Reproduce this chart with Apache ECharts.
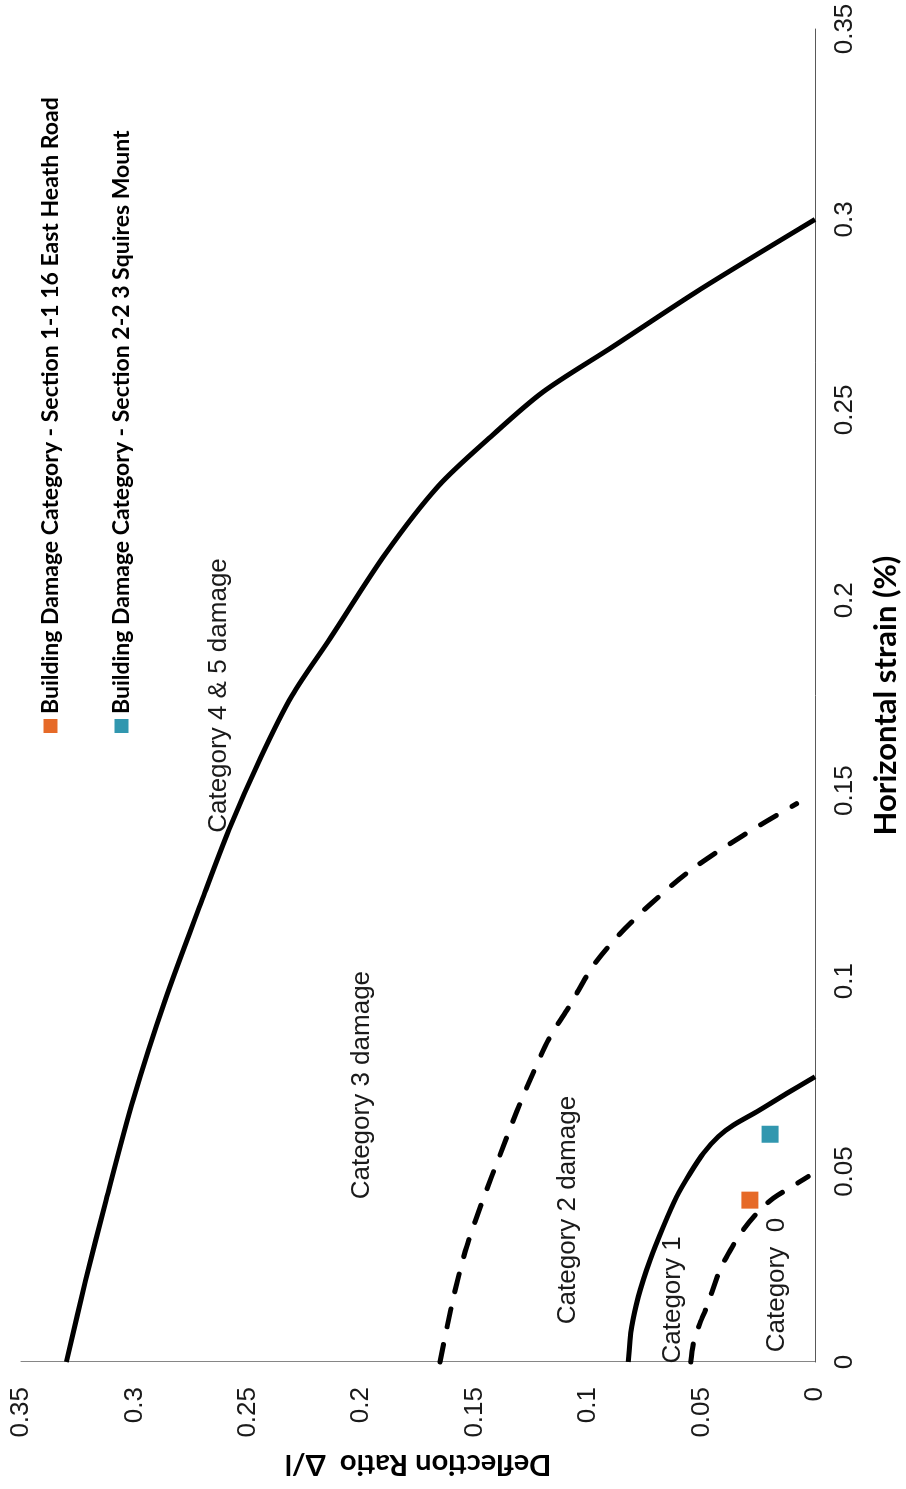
<!DOCTYPE html>
<html>
<head>
<meta charset="utf-8">
<script src="https://cdn.jsdelivr.net/npm/echarts@6/dist/echarts.min.js"></script>
<style>
  html, body { margin: 0; padding: 0; background: #fff; overflow: hidden; }
  body { width: 906px; height: 1489px; position: relative; }
  /* chart is laid out landscape and turned a quarter turn counter-clockwise */
  #chart {
    position: absolute; left: 0; top: 0;
    width: 1489px; height: 906px;
    transform-origin: 0 0;
    transform: translateY(1489px) rotate(-90deg);
  }
</style>
</head>
<body>
<div id="chart"></div>
<script>
// Damage category boundaries: [horizontal strain %, deflection ratio]
const cat45Boundary = [[0, 0.330], [0.0215, 0.3215], [0.0425, 0.3125], [0.0688, 0.3006], [0.095, 0.2865],
  [0.1213, 0.2702], [0.1398, 0.2583], [0.1586, 0.2444], [0.1749, 0.2306], [0.1902, 0.2135],
  [0.2124, 0.1891], [0.23, 0.166], [0.2429, 0.143], [0.2547, 0.1199], [0.2663, 0.0899],
  [0.2816, 0.0507], [0.300, 0]];
const cat23Boundary = [[0, 0.1653], [0.0169, 0.1594], [0.0304, 0.1535], [0.0429, 0.1462], [0.0543, 0.1389],
  [0.0657, 0.1315], [0.0761, 0.1241], [0.0854, 0.1168], [0.0937, 0.108], [0.1041, 0.0977],
  [0.1124, 0.086], [0.1197, 0.0735], [0.129, 0.0551], [0.1383, 0.0316], [0.1466, 0.0081]];
const cat12Boundary = [[0, 0.0823], [0.0093, 0.0808], [0.0171, 0.0779], [0.0268, 0.0727], [0.0355, 0.0669],
  [0.0434, 0.061], [0.0495, 0.0551], [0.0548, 0.0492], [0.0592, 0.0426], [0.0622, 0.036],
  [0.0657, 0.0257], [0.0705, 0.0125], [0.0749, 0]];
const cat01Boundary = [[0, 0.0548], [0.0049, 0.0536], [0.0102, 0.0507], [0.0145, 0.0477], [0.0242, 0.0419],
  [0.0307, 0.036], [0.0347, 0.0316], [0.0395, 0.025], [0.043, 0.0184], [0.046, 0.0103], [0.0487, 0.003]];

// Assessed buildings
const section11Name = 'Building Damage Category - Section 1-1 16 East Heath Road';
const section22Name = 'Building Damage Category - Section 2-2 3 Squires Mount';
const section11Points = [[0.0425, 0.0287]];
const section22Points = [[0.0598, 0.0198]];

// Zone annotations
const zoneLabels = [
  { name: 'Category 4 & 5 damage', value: [0.175, 0.263] },
  { name: 'Category 3 damage', value: [0.0727, 0.1997] },
  { name: 'Category 2 damage', value: [0.0399, 0.1089] },
  { name: 'Category 1', value: [0.0163, 0.0626] },
  { name: 'Category  0', value: [0.0202, 0.0168] }
];

// Axis range
const strainRange = { min: 0, max: 0.35, step: 0.05 };
const deflectionRange = { min: 0, max: 0.35, step: 0.05 };

const tickFont = { fontFamily: '"Liberation Sans", Arial, sans-serif', fontSize: 26, color: '#1a1a1a' };
const titleFamily = 'Lato, "Open Sans", sans-serif';
const legendText = { fontFamily: titleFamily, fontWeight: 'bold', fontSize: 23, color: '#000' };

function boundary(name, data, dashed) {
  return {
    name: name, type: 'line', data: data, symbol: 'none', silent: true,
    smooth: 0.3,
    lineStyle: { color: '#000', width: 5, type: dashed ? [18, 18] : 'solid', cap: dashed ? 'round' : 'butt' },
    z: 2
  };
}

const chart = echarts.init(document.getElementById('chart'), null, { renderer: 'canvas' });
chart.setOption({
  animation: false,
  backgroundColor: '#fff',
  grid: { left: 127, right: 29, top: 21, bottom: 91, containLabel: false },
  xAxis: {
    type: 'value', min: strainRange.min, max: strainRange.max, interval: strainRange.step,
    name: 'Horizontal strain (%)', nameLocation: 'middle', nameGap: 55,
    nameTextStyle: { fontFamily: titleFamily, fontWeight: 'bold', fontSize: 31, color: '#000' },
    axisLine: { show: true, onZero: false, lineStyle: { color: '#595959', width: 1 } },
    axisTick: { show: false }, splitLine: { show: false },
    axisLabel: Object.assign({ margin: 17 }, tickFont)
  },
  yAxis: {
    type: 'value', min: deflectionRange.min, max: deflectionRange.max, interval: deflectionRange.step,
    name: 'Deflection Ratio  \u0394/l', nameLocation: 'middle', nameRotate: 90, nameGap: 88,
    nameTextStyle: { fontFamily: titleFamily, fontWeight: 'bold', fontSize: 29, color: '#000' },
    axisLine: { show: true, onZero: false, lineStyle: { color: '#868686', width: 1 } },
    axisTick: { show: false }, splitLine: { show: false },
    axisLabel: Object.assign({ margin: 25 }, tickFont)
  },
  legend: [
    { data: [section11Name], left: 751, top: 34, icon: 'rect', itemWidth: 14, itemHeight: 14, selectedMode: false,
      textStyle: legendText },
    { data: [section22Name], left: 751, top: 105, icon: 'rect', itemWidth: 14, itemHeight: 14, selectedMode: false,
      textStyle: legendText }
  ],
  series: [
    boundary('Category 4/5 limit', cat45Boundary, false),
    boundary('Category 2/3 limit', cat23Boundary, true),
    boundary('Category 1/2 limit', cat12Boundary, false),
    boundary('Category 0/1 limit', cat01Boundary, true),
    {
      name: 'zones', type: 'scatter', data: zoneLabels, symbolSize: 0, silent: true,
      itemStyle: { color: 'transparent', opacity: 1 },
      label: { show: true, position: 'inside', formatter: '{b}', opacity: 1,
        fontFamily: '"Liberation Sans", Arial, sans-serif', fontSize: 26, color: '#1a1a1a',
        textBorderWidth: 0 },
      z: 3
    },
    { name: section11Name, type: 'scatter', data: section11Points, symbol: 'rect', symbolSize: 17,
      itemStyle: { color: '#E66A28', opacity: 1 }, z: 4 },
    { name: section22Name, type: 'scatter', data: section22Points, symbol: 'rect', symbolSize: 17,
      itemStyle: { color: '#3197AF', opacity: 1 }, z: 4 }
  ]
});
</script>
</body>
</html>
